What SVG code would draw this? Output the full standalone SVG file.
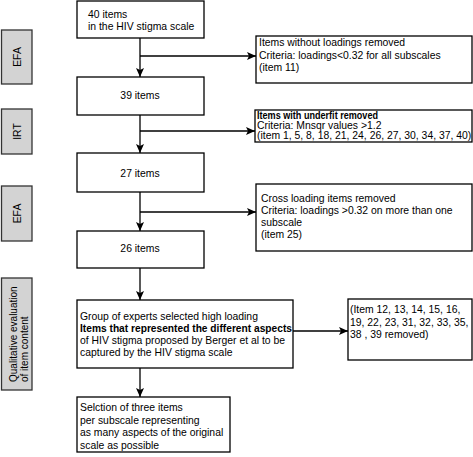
<svg xmlns="http://www.w3.org/2000/svg" width="473" height="457" viewBox="0 0 473 457">
<defs>
<marker id="ah" markerUnits="userSpaceOnUse" markerWidth="10" markerHeight="8" refX="9" refY="4" orient="auto">
<path d="M0,0 L9,4 L0,8 L2,4 Z" fill="#000"/>
</marker>
<style>
.box{fill:#fff;stroke:#000;stroke-width:1.3}
.side{fill:#d3d3d3;stroke:#333;stroke-width:1.3}
text{font-family:"Liberation Sans",Arial,Helvetica,sans-serif;font-size:10.4px;fill:#000}
.b{font-weight:bold}
.c{text-anchor:middle}
.q{font-size:10px}
.ln{fill:none;stroke:#000;stroke-width:1.3}
</style>
</defs>
<rect width="473" height="457" fill="#fff"/>
<g id="side-efa1"><rect class="side" x="1.5" y="30" width="30.5" height="54"/><text class="c" transform="translate(21,57) rotate(-90)">EFA</text></g>
<g id="side-irt"><rect class="side" x="1.5" y="109" width="30.5" height="45"/><text class="c" transform="translate(21,131.5) rotate(-90)">IRT</text></g>
<g id="side-efa2"><rect class="side" x="1.5" y="186" width="30.5" height="55"/><text class="c" transform="translate(21,213.5) rotate(-90)">EFA</text></g>
<g id="side-qual"><rect class="side" x="1.5" y="278" width="30.5" height="112"/><text class="q" transform="translate(17,382) rotate(-90)">Qualitative evaluation</text><text class="q" transform="translate(28,382) rotate(-90)">of item content</text></g>

<g id="connectors">
<line class="ln" x1="140" y1="38" x2="140" y2="77" marker-end="url(#ah)"/>
<line class="ln" x1="140" y1="56" x2="256" y2="56" marker-end="url(#ah)"/>
<line class="ln" x1="140" y1="115" x2="140" y2="153" marker-end="url(#ah)"/>
<line class="ln" x1="140" y1="131" x2="255" y2="131" marker-end="url(#ah)"/>
<line class="ln" x1="140" y1="192" x2="140" y2="231" marker-end="url(#ah)"/>
<line class="ln" x1="140" y1="212" x2="256" y2="212" marker-end="url(#ah)"/>
<line class="ln" x1="140" y1="268" x2="140" y2="300" marker-end="url(#ah)"/>
<line class="ln" x1="140" y1="368" x2="140" y2="397" marker-end="url(#ah)"/>
<line class="ln" x1="293" y1="331" x2="348" y2="331" marker-end="url(#ah)"/>
</g>

<g id="n40"><rect class="box" x="77" y="1" width="127" height="37"/><text x="88" y="18">40 items</text><text x="88" y="30">in the HIV stigma scale</text></g>
<g id="n39"><rect class="box" x="77" y="77" width="127" height="38"/><text class="c" x="140" y="99">39 items</text></g>
<g id="n27"><rect class="box" x="77" y="153" width="127" height="39"/><text class="c" x="140" y="177">27 items</text></g>
<g id="n26"><rect class="box" x="77" y="231" width="127" height="37"/><text class="c" x="140" y="252">26 items</text></g>
<g id="ngroup"><rect class="box" x="77" y="300" width="216" height="68"/>
<text x="80" y="320">Group of experts selected high loading</text>
<text class="b" x="80" y="332" textLength="212" lengthAdjust="spacingAndGlyphs">Items that represented the different aspects</text>
<text x="80" y="344">of HIV stigma proposed by Berger et al to be</text>
<text x="80" y="356">captured by the HIV stigma scale</text></g>
<g id="nsel"><rect class="box" x="77" y="397" width="153" height="55"/>
<text x="80" y="411">Selction of three items</text>
<text x="80" y="423.5">per subscale representing</text>
<text x="80" y="436">as many aspects of the original</text>
<text x="80" y="448.5">scale as possible</text></g>

<g id="r1"><rect class="box" x="256" y="36" width="216" height="47"/>
<text x="259" y="46">Items without loadings removed</text>
<text x="259" y="58.5">Criteria: loadings&lt;0.32 for all subscales</text>
<text x="259" y="71">(item 11)</text></g>
<g id="r2"><rect class="box" x="255" y="110" width="217" height="32"/>
<text class="b" x="257" y="119" textLength="121" lengthAdjust="spacingAndGlyphs">Items with underfit removed</text>
<text x="257" y="129">Criteria: Mnsqr values &gt;1.2</text>
<text x="257" y="139">(item 1, 5, 8, 18, 21, 24, 26, 27, 30, 34, 37, 40)</text></g>
<g id="r3"><rect class="box" x="256" y="184" width="216" height="67"/>
<text x="261" y="202">Cross loading items removed</text>
<text x="261" y="214">Criteria: loadings &gt;0.32 on more than one</text>
<text x="261" y="226">subscale</text>
<text x="261" y="238">(item 25)</text></g>
<g id="r4"><rect class="box" x="348" y="299" width="124" height="61"/>
<text x="350" y="313">(Item 12, 13, 14, 15, 16,</text>
<text x="350" y="325.5">19, 22, 23, 31, 32, 33, 35,</text>
<text x="350" y="338">38 , 39 removed)</text></g>
</svg>
